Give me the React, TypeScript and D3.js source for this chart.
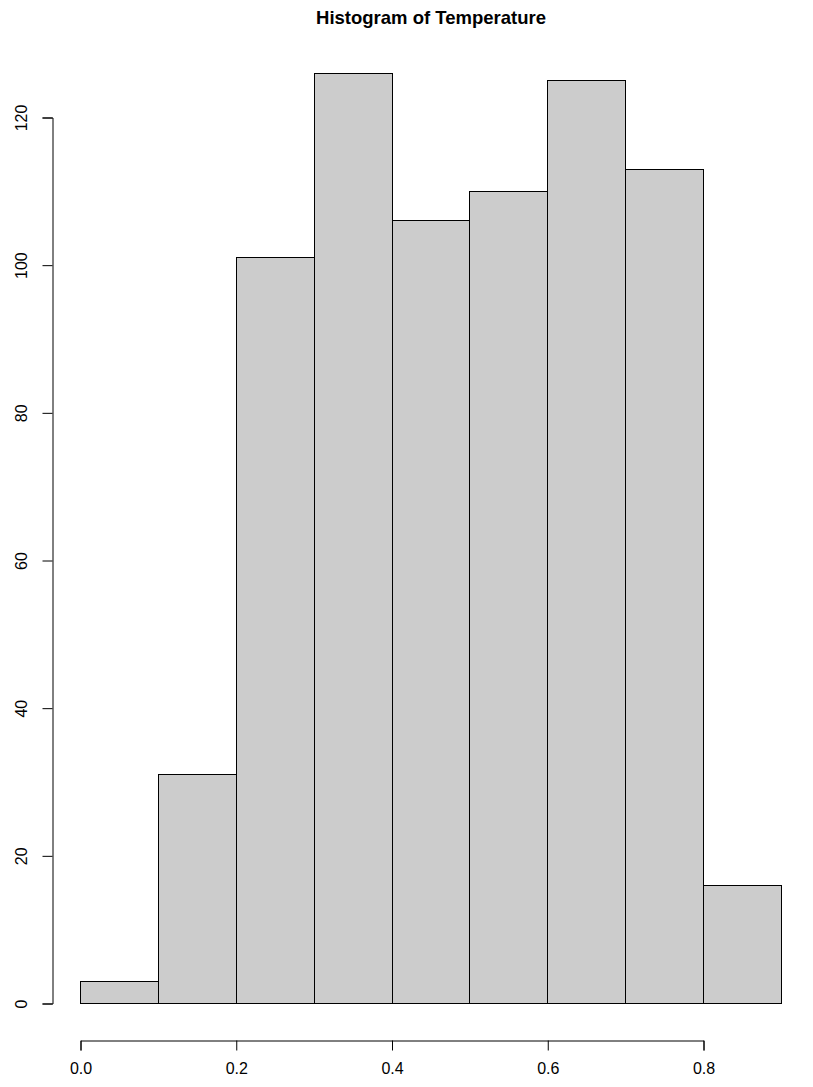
import React, { useEffect, useRef } from 'react';
import * as d3 from 'd3';

// histogram bins (left edges) and counts
const binStarts = [0.0, 0.1, 0.2, 0.3, 0.4, 0.5, 0.6, 0.7, 0.8];
const counts = [3, 31, 101, 126, 106, 110, 125, 113, 16];
const binWidth = 0.1;
const xTicks = [0.0, 0.2, 0.4, 0.6, 0.8];
const yTicks = [0, 20, 40, 60, 80, 100, 120];
const title = 'Histogram of Temperature';

const W = 813;
const H = 1087;
const font = '"Liberation Sans", Arial, Helvetica, sans-serif';

export default function App() {
  const ref = useRef<SVGSVGElement>(null);

  useEffect(() => {
    const svg = d3.select(ref.current);
    svg.selectAll('*').remove();

    const x = d3.scaleLinear().domain([0, 0.8]).range([80, 703]);
    const y = d3.scaleLinear().domain([0, 120]).range([1003, 117]);

    svg.append('rect').attr('width', W).attr('height', H).attr('fill', '#fff');

    // title
    svg
      .append('text')
      .attr('x', 431)
      .attr('y', 23.5)
      .attr('text-anchor', 'middle')
      .style('font-family', font)
      .style('font-weight', 'bold')
      .style('font-size', '18.5px')
      .attr('fill', '#000')
      .text(title);

    // bars
    const data = binStarts.map((s, i) => ({ s, n: counts[i] }));
    svg
      .append('g')
      .selectAll('rect')
      .data(data)
      .enter()
      .append('rect')
      .attr('x', d => Math.round(x(d.s)) + 0.5)
      .attr('y', d => Math.round(y(d.n)) + 0.5)
      .attr('width', d => Math.round(x(d.s + binWidth)) - Math.round(x(d.s)))
      .attr('height', d => Math.round(y(0)) - Math.round(y(d.n)))
      .attr('fill', '#cccccc')
      .attr('stroke', '#000')
      .attr('stroke-width', 1);

    // x axis (R style: line only between first and last tick)
    const xAxisScale = d3
      .scaleLinear()
      .domain([xTicks[0], xTicks[xTicks.length - 1]])
      .range([x(xTicks[0]) + 0.5, x(xTicks[xTicks.length - 1]) + 0.5]);
    const xAxis = d3
      .axisBottom(xAxisScale)
      .tickValues(xTicks)
      .tickSizeOuter(0)
      .tickSize(10)
      .tickFormat(d3.format('.1f'));
    const gx = svg.append('g').attr('transform', 'translate(0, 1040.5)').call(xAxis);
    gx.selectAll('text')
      .style('font-family', font)
      .style('font-size', '16px')
      .attr('fill', '#000')
      .attr('dy', null)
      .attr('y', 33.5);
    gx.selectAll('line,path').attr('stroke', '#000');

    // y axis
    const yAxis = d3
      .axisLeft(y)
      .tickValues(yTicks)
      .tickSizeOuter(0)
      .tickSize(10)
      .tickFormat(d3.format('d'));
    const gy = svg.append('g').attr('transform', 'translate(52.5, 0.5)').call(yAxis);
    gy.selectAll('line,path').attr('stroke', '#000');
    gy.selectAll('text')
      .style('font-family', font)
      .style('font-size', '16px')
      .attr('fill', '#000')
      .attr('x', null)
      .attr('dy', null)
      .attr('text-anchor', 'middle')
      .attr('transform', 'translate(-26, 0) rotate(-90)');
  }, []);

  return (
    <svg
      ref={ref}
      width={W}
      height={H}
      style={{ position: 'absolute', left: 0, top: 0, display: 'block' }}
    />
  );
}
